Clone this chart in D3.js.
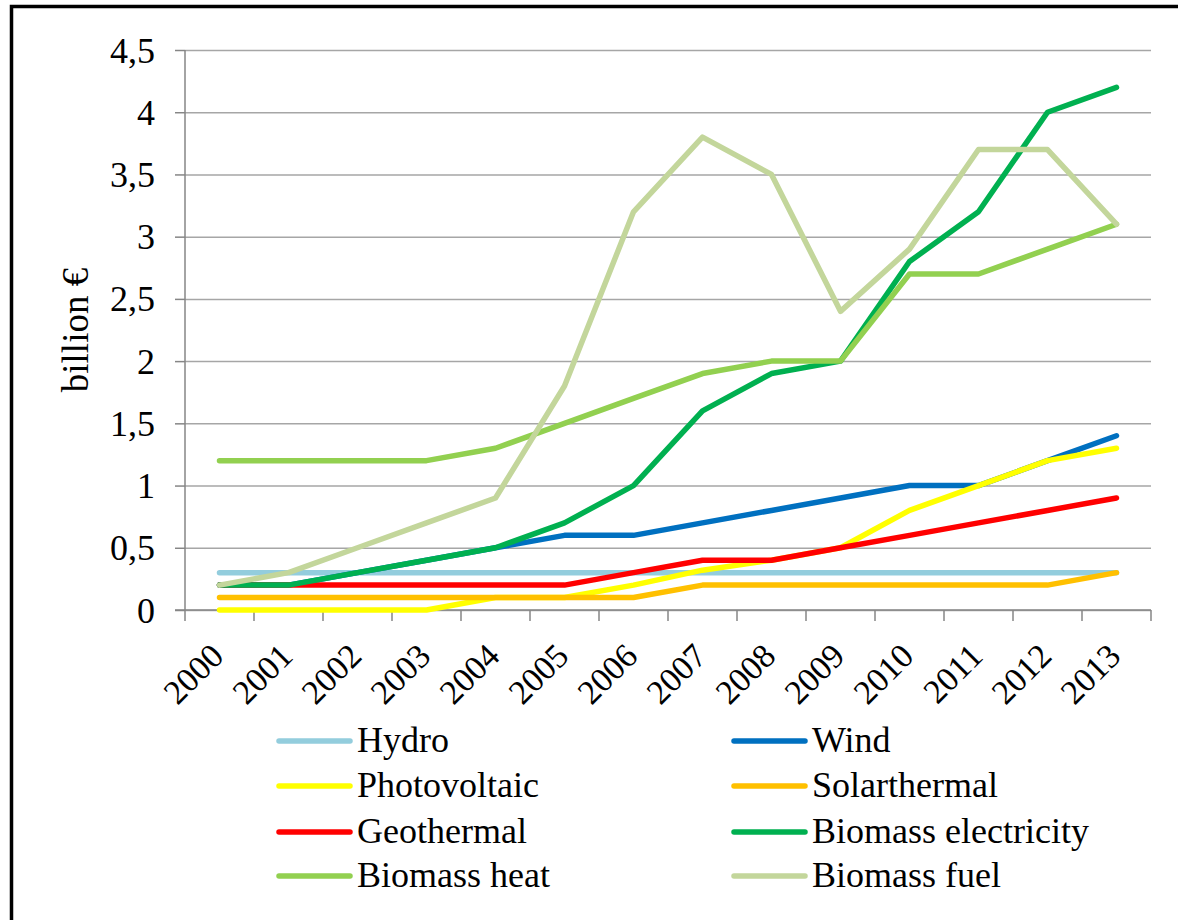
<!DOCTYPE html>
<html>
<head>
<meta charset="utf-8">
<script src="https://cdn.jsdelivr.net/npm/d3@7"></script>
<style>
  html, body { margin: 0; padding: 0; background: #fff; }
  svg { display: block; }
</style>
</head>
<body>
<svg id="chart" width="1178" height="920"></svg>
<script>
const years = ["2000","2001","2002","2003","2004","2005","2006","2007","2008","2009","2010","2011","2012","2013"];
const yTicks = [0, 0.5, 1, 1.5, 2, 2.5, 3, 3.5, 4, 4.5];
const yTickLabels = ["0","0,5","1","1,5","2","2,5","3","3,5","4","4,5"];

const seriesNames = ["Hydro","Wind","Photovoltaic","Solarthermal","Geothermal","Biomass electricity","Biomass heat","Biomass fuel"];
const seriesColors = ["#93CDDD","#0070C0","#FFFF00","#FFC000","#FF0000","#00B050","#92D050","#C3D69B"];

const hydro        = [0.3,0.3,0.3,0.3,0.3,0.3,0.3,0.3,0.3,0.3,0.3,0.3,0.3,0.3];
const wind         = [0.2,0.2,0.3,0.4,0.5,0.6,0.6,0.7,0.8,0.9,1.0,1.0,1.2,1.4];
const photovoltaic = [0,0,0,0,0.1,0.1,0.2,0.32,0.4,0.5,0.8,1.0,1.2,1.3];
const solarthermal = [0.1,0.1,0.1,0.1,0.1,0.1,0.1,0.2,0.2,0.2,0.2,0.2,0.2,0.3];
const geothermal   = [0.2,0.2,0.2,0.2,0.2,0.2,0.3,0.4,0.4,0.5,0.6,0.7,0.8,0.9];
const biomassElec  = [0.2,0.2,0.3,0.4,0.5,0.7,1.0,1.6,1.9,2.0,2.8,3.2,4.0,4.2];
const biomassHeat  = [1.2,1.2,1.2,1.2,1.3,1.5,1.7,1.9,2.0,2.0,2.7,2.7,2.9,3.1];
const biomassFuel  = [0.2,0.3,0.5,0.7,0.9,1.8,3.2,3.8,3.5,2.4,2.9,3.7,3.7,3.1];

const seriesValues = [hydro, wind, photovoltaic, solarthermal, geothermal, biomassElec, biomassHeat, biomassFuel];

const FONT = '"Liberation Serif", "Times New Roman", serif';
const svg = d3.select("#chart");

// outer frame
svg.append("rect")
  .attr("x", 11.5).attr("y", 6.5)
  .attr("width", 1300).attr("height", 1100)
  .attr("fill", "none").attr("stroke", "#000").attr("stroke-width", 3.5);

const x = d3.scaleBand().domain(years).range([185, 1151]).padding(0);
const y = d3.scaleLinear().domain([0, 4.5]).range([610, 50]);

// gridlines
const grid = svg.append("g").attr("transform", "translate(185,0)")
  .call(d3.axisLeft(y).tickValues(yTicks).tickSize(-966).tickFormat(""));
grid.select(".domain").remove();
grid.selectAll(".tick line").attr("stroke", "#a6a6a6").attr("stroke-width", 1.5);

// y axis
const yAxis = svg.append("g").attr("transform", "translate(185,0)")
  .call(d3.axisLeft(y).tickValues(yTicks).tickSize(10).tickPadding(20)
    .tickFormat((d, i) => yTickLabels[i]));
yAxis.attr("font-family", null).attr("font-size", null);
yAxis.select(".domain").attr("stroke", "#868686").attr("stroke-width", 1.5)
  .attr("d", "M0,50V610");
yAxis.selectAll(".tick line").attr("stroke", "#868686").attr("stroke-width", 1.5);
yAxis.selectAll(".tick text")
  .style("font-family", FONT).style("font-size", "36px")
  .attr("fill", "#000").attr("dy", null).attr("y", 12);

// x axis
const xAxis = svg.append("g").attr("transform", "translate(0,610)")
  .call(d3.axisBottom(x).tickSize(0).tickFormat(""));
xAxis.select(".domain").attr("stroke", "#868686").attr("stroke-width", 1.5)
  .attr("d", "M175,0H1151");
xAxis.selectAll(".tick").remove();
const bounds = years.map(d => x(d)).concat([x(years[years.length - 1]) + x.bandwidth()]);
xAxis.selectAll("line.bt").data(bounds).enter().append("line")
  .attr("class", "bt")
  .attr("x1", d => d).attr("x2", d => d)
  .attr("y1", 0).attr("y2", 11)
  .attr("stroke", "#868686").attr("stroke-width", 1.5);

// x labels rotated
svg.append("g").selectAll("text").data(years).enter().append("text")
  .attr("transform", d => `translate(${x(d) + x.bandwidth() / 2 + 6},658) rotate(-45)`)
  .attr("text-anchor", "end")
  .style("font-family", FONT).style("font-size", "34px")
  .attr("fill", "#000")
  .text(d => d);

// y title
svg.append("text")
  .attr("transform", "translate(88,330) rotate(-90)")
  .attr("text-anchor", "middle")
  .style("font-family", FONT).style("font-size", "37px")
  .attr("fill", "#000")
  .text("billion €");

// lines
const line = d3.line()
  .x((d, i) => x(years[i]) + x.bandwidth() / 2)
  .y(d => y(d));

svg.append("g").selectAll("path").data(seriesValues).enter().append("path")
  .attr("d", d => line(d))
  .attr("fill", "none")
  .attr("stroke", (d, i) => seriesColors[i])
  .attr("stroke-width", 5.5)
  .attr("stroke-linejoin", "round")
  .attr("stroke-linecap", "round");

// legend
const legendCols = [277, 732];
const legendRows = [741, 786, 832, 876];
const lg = svg.append("g");
seriesNames.forEach((name, i) => {
  const cx = legendCols[i % 2];
  const cy = legendRows[Math.floor(i / 2)];
  lg.append("line")
    .attr("x1", cx + 2).attr("x2", cx + 73)
    .attr("y1", cy).attr("y2", cy)
    .attr("stroke", seriesColors[i]).attr("stroke-width", 5.5)
    .attr("stroke-linecap", "round");
  lg.append("text")
    .attr("x", cx + 80).attr("y", cy + 11)
    .style("font-family", FONT).style("font-size", "36px")
    .attr("fill", "#000")
    .text(name);
});
</script>
</body>
</html>
